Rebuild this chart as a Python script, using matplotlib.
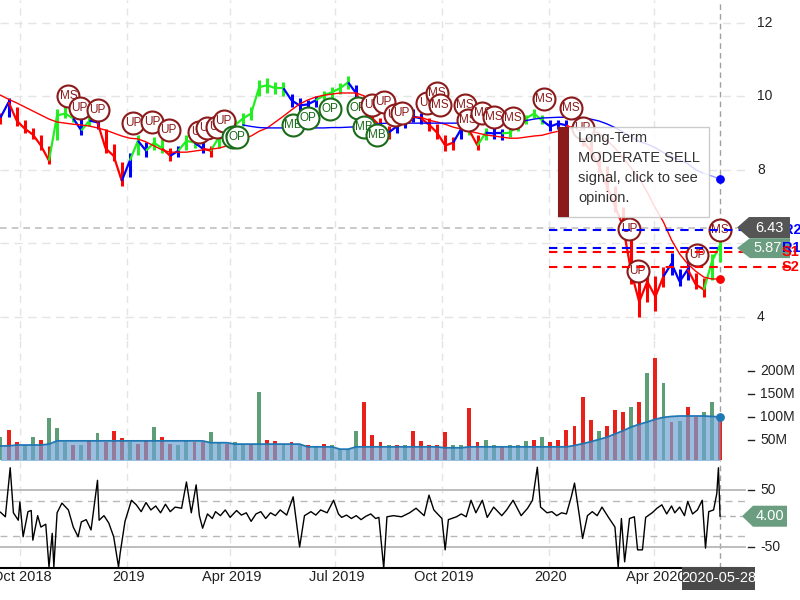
import numpy as np
import pandas as pd
import matplotlib
matplotlib.use("Agg")
import matplotlib.pyplot as plt
from matplotlib.collections import LineCollection
from matplotlib.patches import Rectangle, Polygon

plt.rcParams['font.family'] = ['Liberation Sans', 'DejaVu Sans']

# ---- data (one reading per week = every 5 business days from 2018-09-13) ----
close = [9.42, 9.84, 9.34, 9.12, 8.96, 8.66, 8.25, 9.48, 9.53, 9.40,
         9.07, 9.34, 9.29, 8.58, 8.38, 7.70, 8.25, 8.79, 8.52, 8.74,
         8.58, 8.38, 8.52, 8.79, 8.74, 8.58, 8.52, 8.88, 9.07, 9.21,
         9.40, 9.53, 10.25, 10.30, 10.22, 10.22, 9.89, 9.75, 9.78, 9.89,
         10.03, 10.11, 10.22, 10.38, 10.08, 9.67, 9.40, 9.18, 9.01, 9.18,
         9.34, 9.45, 9.40, 9.23, 9.01, 8.66, 8.74, 9.12, 9.07, 8.66,
         9.01, 8.99, 8.99, 9.01, 9.23, 9.40, 9.53, 9.34, 9.18, 9.26,
         9.21, 9.07, 8.79, 8.52, 8.11, 7.56, 7.01, 6.47, 5.23, 4.41,
         4.96, 4.55, 5.10, 5.45, 4.96, 5.29, 4.88, 4.74, 5.51, 5.95]
high = [9.55, 9.95, 9.70, 9.35, 9.15, 8.95, 8.65, 9.65, 9.75, 9.65,
        9.40, 9.50, 9.45, 9.10, 8.70, 8.20, 8.45, 8.95, 8.75, 8.90,
        8.85, 8.60, 8.65, 8.95, 8.90, 8.75, 8.65, 9.00, 9.20, 9.35,
        9.55, 9.70, 10.45, 10.50, 10.40, 10.40, 10.05, 9.95, 9.90, 10.00,
        10.15, 10.25, 10.35, 10.55, 10.30, 10.00, 9.65, 9.40, 9.20, 9.35,
        9.50, 9.65, 9.55, 9.40, 9.25, 8.95, 8.90, 9.25, 9.25, 8.95,
        9.15, 9.15, 9.10, 9.15, 9.35, 9.50, 9.65, 9.50, 9.35, 9.35,
        9.35, 9.25, 9.05, 8.80, 8.50, 8.10, 7.55, 7.00, 6.30, 5.40,
        5.40, 5.10, 5.35, 5.75, 5.30, 5.55, 5.20, 5.05, 5.70, 6.43]
low = [9.25, 9.45, 9.20, 9.00, 8.85, 8.55, 8.15, 8.80, 9.40, 9.30,
       8.95, 9.20, 9.10, 8.45, 8.25, 7.55, 7.80, 8.40, 8.35, 8.55,
       8.45, 8.25, 8.35, 8.55, 8.60, 8.45, 8.35, 8.60, 8.90, 9.05,
       9.20, 9.35, 10.00, 10.10, 10.05, 10.00, 9.70, 9.55, 9.60, 9.70,
       9.85, 9.95, 10.05, 10.20, 9.90, 9.50, 9.20, 9.00, 8.85, 9.00,
       9.15, 9.30, 9.25, 9.05, 8.85, 8.50, 8.55, 8.85, 8.95, 8.55,
       8.80, 8.85, 8.80, 8.90, 9.05, 9.25, 9.40, 9.25, 9.05, 9.10,
       9.10, 8.95, 8.65, 8.35, 7.95, 7.40, 6.85, 6.20, 4.90, 4.00,
       4.40, 4.15, 4.80, 5.15, 4.85, 5.00, 4.75, 4.55, 5.00, 5.50]
trend = ("rbrrrrrgggbgbrrrbgbggrbggbr" "ggggggggg" "bbbbggggb" "rrrrbbbbrrrr"
         "bgrgbbgggggbbb" "rrrrrrrrrrrr" "bbbrrgg")
ma_short = [10.03, 9.92, 9.82, 9.71, 9.60, 9.49, 9.38, 9.30, 9.27, 9.24,
            9.22, 9.19, 9.14, 9.08, 9.00, 8.92, 8.86, 8.84, 8.76, 8.65,
            8.54, 8.48, 8.48, 8.48, 8.51, 8.54, 8.56, 8.59, 8.65, 8.73,
            8.84, 8.92, 9.05, 9.14, 9.30, 9.46, 9.63, 9.79, 9.90, 9.98,
            10.03, 10.06, 10.09, 10.09, 10.09, 10.01, 9.79, 9.60, 9.52, 9.49,
            9.46, 9.43, 9.43, 9.35, 9.30, 9.24, 9.16, 9.11, 9.05, 9.00,
            8.95, 8.92, 8.89, 8.86, 8.86, 8.89, 8.92, 8.94, 9.00, 9.05,
            9.14, 9.19, 9.14, 9.08, 9.00, 8.81, 8.59, 8.32, 8.05, 7.77,
            7.39, 6.96, 6.58, 6.09, 5.71, 5.44, 5.24, 5.08, 5.03, 5.03]
ma_long_start = 30  # week where the long average begins
ma_long = [9.22, 9.18, 9.15, 9.14, 9.14, 9.14, 9.14, 9.14, 9.14, 9.14,
           9.14, 9.15, 9.15, 9.16, 9.17, 9.20, 9.23, 9.26, 9.27, 9.27,
           9.27, 9.27, 9.27, 9.27, 9.27, 9.27, 9.27, 9.27, 9.27, 9.26,
           9.25, 9.24, 9.24, 9.26, 9.30, 9.34, 9.38, 9.41, 9.42, 9.43,
           9.43, 9.43, 9.42, 9.38, 9.33, 9.25, 9.15, 9.03, 8.90, 8.77,
           8.70, 8.60, 8.47, 8.35, 8.27, 8.17, 8.00, 7.90, 7.83, 7.75]

volume = [57, 72, 45, 40, 57, 50, 98, 76, 45, 40, 38, 48, 65, 45, 70, 55, 45, 42, 48, 79,
          57, 42, 40, 50, 45, 45, 67, 45, 42, 45, 40, 40, 154, 50, 48, 38, 45, 40, 38, 35,
          42, 40, 30, 30, 70, 133, 60, 45, 40, 38, 40, 70, 48, 38, 40, 67, 40, 38, 120, 45,
          50, 40, 35, 38, 40, 48, 50, 57, 45, 50, 72, 80, 143, 93, 70, 80, 115, 110, 122, 133,
          196, 228, 174, 90, 92, 122, 100, 110, 133, 98]
vol_dir = ("grrggrgggr" "grgrrrgrrg" "rrggrrggrg" "grgrrgrgrg" "rggggrrrgr"
           "grrrrrggrr" "ggrgggrgrr" "rrrrgrrrgr" "grgrgrrggr")
vol_avg = [37, 37, 39, 39, 39, 39, 41, 48, 48, 48, 48, 48, 48, 48, 48, 48, 48, 48, 48, 48,
           48, 48, 48, 48, 48, 48, 44, 44, 44, 41, 41, 41, 41, 41, 41, 41, 41, 41, 35, 35,
           35, 35, 30, 30, 35, 35, 35, 35, 35, 35, 35, 35, 35, 35, 35, 33, 33, 33, 35, 35,
           35, 35, 35, 35, 35, 35, 35, 35, 35, 35, 35, 38, 42, 46, 51, 56, 63, 70, 78, 84,
           89, 95, 99, 101, 102, 102, 102, 102, 101, 100]

# oscillator readings (business-day index, value)
osc_day = [0, 3, 6, 8, 11, 12, 14, 17, 19, 20, 23, 25, 28, 30, 32, 33, 35, 38, 42, 45,
           48, 50, 53, 56, 60, 61, 64, 67, 70, 73, 74, 77, 81, 84, 87, 90, 93, 96, 99, 102,
           105, 108, 112, 115, 118, 121, 123, 125, 128, 131, 133, 136, 139, 142, 146, 149, 152, 155, 158, 161,
           164, 167, 170, 173, 177, 181, 185, 188, 192, 195, 198, 202, 206, 209, 211, 214, 217, 220, 223, 226,
           229, 232, 234, 237, 239, 243, 248, 253, 257, 262, 265, 268, 273, 275, 277, 282, 285, 288, 291, 294,
           298, 301, 305, 310, 313, 317, 322, 326, 329, 332, 334, 338, 341, 344, 347, 350, 353, 355, 358, 360,
           363, 366, 369, 372, 376, 380, 382, 384, 386, 389, 392, 394, 397, 399, 403, 406, 409, 412, 415, 417,
           420, 423, 425, 428, 431, 434, 436, 438, 441, 443, 444, 445]
osc_val = [11, 3, 89, 10, -3, 29, -32, 12, 14, -38, 5, -15, -10, -85, -26, -85, 10, 27, 15, -15,
           -32, -6, -2, -20, 67, -3, 5, -8, -32, -85, -61, -5, 32, 24, 12, 28, 15, 22, 10, 25,
           12, 20, 18, 64, 10, 59, 5, -17, 8, 0, 12, 5, 15, 2, 14, 6, 10, -5, 8, 12,
           0, 10, 5, 15, 6, 38, -50, 5, 12, 6, 15, 10, 32, 8, 2, 6, 0, 5, -2, 4,
           8, 0, 2, -87, 3, 5, 3, 10, 18, 5, 41, 15, 0, -55, -2, 3, 8, 3, 32, 10,
           32, 2, 20, 5, 15, 32, 5, 18, 32, 90, 20, 10, 12, 5, 10, 8, 38, 62, 5, -35,
           5, 12, 5, 20, 2, -15, -85, 0, -76, 0, 3, -55, -55, 2, 10, 18, 24, 8, 22, 10,
           20, 5, 30, 8, 15, 32, -52, 12, 15, 44, 89, 4]

# signal circles (business-day index, price, text)
sig_day = [42, 49, 60, 82, 94, 104, 123, 128, 134, 138, 144, 146, 181, 190, 204, 221, 225, 230,
           233, 237, 244, 248, 264, 270, 272, 287, 289, 298, 305, 317, 336, 353, 360, 389, 394, 431, 445]
sig_price = [10.01, 9.68, 9.62, 9.27, 9.30, 9.08, 9.03, 9.14, 9.16, 9.33, 8.89, 8.89, 9.22, 9.41,
             9.65, 9.68, 9.16, 9.76, 8.95, 9.84, 9.49, 9.54, 9.82, 10.09, 9.76, 9.76, 9.35, 9.54,
             9.43, 9.41, 9.92, 9.68, 9.14, 6.38, 5.24, 5.67, 6.36]
sig_text = ["MS", "UP", "UP", "UP", "UP", "UP", "UP", "UP", "UP", "UP", "OP", "OP", "MB", "OP",
            "OP", "OP", "MB", "UP", "MB", "UP", "UP", "UP", "UP", "MS", "MS", "MS", "MS", "MS",
            "MS", "MS", "MS", "MS", "UP", "UP", "UP", "UP", "MS"]

last_price = 6.43
pivots = {"R2": 6.36, "R1": 5.87, "S1": 5.76, "S2": 5.35}
osc_last = 4.00
last_date = "2020-05-28"
month_starts = ["2018-10-01", "2019-01-01", "2019-04-01", "2019-07-01",
                "2019-10-01", "2020-01-01", "2020-04-01"]
month_labels = ["Oct 2018", "2019", "Apr 2019", "Jul 2019", "Oct 2019", "2020", "Apr 2020"]

# ---- layout helpers ----
dates = pd.bdate_range("2018-09-13", periods=446)
n = len(close)
xw = np.arange(n) * 5
last = len(dates) - 1
PX = 1.617  # pixels per business day


def X(px):
    return px / PX - 0.3


xlim = (X(0), X(800))
ticks = [dates.searchsorted(pd.Timestamp(m)) for m in month_starts]

fig = plt.figure(figsize=(8, 6), dpi=100)
ax = fig.add_axes([0, 260 / 600, 1, 340 / 600])
axv = fig.add_axes([0, 140 / 600, 1, 120 / 600])
axo = fig.add_axes([0, 32 / 600, 1, 108 / 600])
for a in (ax, axv, axo):
    a.set_xlim(*xlim)
    a.axis("off")
    for t in ticks:
        a.axvline(t, color="#e4e4e4", ls=(0, (5, 4)), lw=1, zorder=0)
    a.axvline(last, color="#a0a0a0", ls=(0, (4, 3)), lw=1, zorder=1)

# ---- price panel ----
ax.set_ylim(3.37, 12.62)
for v in [4, 6, 8, 10, 12]:
    ax.plot([X(0), X(745)], [v, v], color="#e4e4e4", ls=(0, (6, 4)), lw=1, zorder=0)
for v in [4, 8, 10, 12]:
    ax.text(X(757), v, str(v), fontsize=10, va="center", ha="left", color="#222222")
ax.plot([X(0), X(737)], [last_price, last_price], color="#c0c0c0", ls=(0, (4, 3)), lw=1.2, zorder=1)

cmap = {"r": "#ff0000", "g": "#22ee22", "b": "#0000ff"}
cols = [cmap[c] for c in trend]
ax.vlines(xw, low, high, colors=cols, lw=2.2, zorder=2)
segs = [[(xw[i - 1], close[i - 1]), (xw[i], close[i])] for i in range(1, n)]
ax.add_collection(LineCollection(segs, colors=cols[1:], lw=1.6, zorder=2))

ax.plot(xw, ma_short, color="#ff0000", lw=1, zorder=3)
xl = xw[ma_long_start:]
ax.plot(xl[:-2], ma_long[:-2], color="#0000ff", lw=1, zorder=3)
ax.plot(xl[-3:], ma_long[-3:], color="#9a9aff", lw=1, zorder=3)
ax.scatter([last], [ma_long[-1]], s=28, color="#0000ff", zorder=4)
ax.scatter([last], [ma_short[-1]], s=28, color="#ff0000", zorder=4)

for k, (d, p, t) in enumerate(zip(sig_day, sig_price, sig_text)):
    c = "#1a6b1a" if t in ("OP", "MB") else "#8b1a1a"
    ax.scatter([d], [p], s=250, facecolor="white", edgecolor=c, lw=1.5, zorder=5 + k * 0.01)
    ax.text(d, p, t, fontsize=8.5, color=c, ha="center", va="center", zorder=5.005 + k * 0.01)

# pivot lines
pcol = {"R2": "#0000ff", "R1": "#0000ff", "S1": "#ff0000", "S2": "#ff0000"}
p0 = dates.searchsorted(pd.Timestamp("2020-01-01"))
for name, v in pivots.items():
    ax.plot([p0, X(790)], [v, v], color=pcol[name], ls=(0, (4, 3)), lw=1.5, zorder=6)

# tooltip
ax.add_patch(Rectangle((0.6975, 0.3618), 0.189, 0.2647, transform=ax.transAxes,
                       fc="white", ec="#c4c4c4", alpha=0.85, lw=1, zorder=20))
ax.add_patch(Rectangle((0.6975, 0.3618), 0.014, 0.2647, transform=ax.transAxes,
                       fc="#8b1a1a", ec="none", zorder=21))
ax.text(0.7225, 0.615, "Long-Term\nMODERATE SELL\nsignal, click to see\nopinion.",
        transform=ax.transAxes, fontsize=10.5, color="#333333", va="top", ha="left",
        linespacing=1.55, zorder=22)

# value flags
half = 10.5 / 36.75
ax.text(X(783), pivots["R2"], "R2", color="#0000ff", fontsize=10.5, fontweight="bold",
        va="center", ha="left", zorder=24)
ax.add_patch(Polygon([(X(737), last_price), (X(749), last_price + half), (X(790), last_price + half),
                      (X(790), last_price - half), (X(749), last_price - half)],
                     fc="#555555", ec="none", zorder=25))
ax.text(X(769), last_price, f"{last_price:.2f}", color="white", fontsize=10.5, ha="center",
        va="center", zorder=26)
r1 = pivots["R1"]
ax.add_patch(Polygon([(X(737), r1), (X(750), r1 + half * 0.95), (X(790), r1 + half * 0.95),
                      (X(790), r1 - half * 0.95), (X(750), r1 - half * 0.95)],
                     fc="#6b9e80", ec="none", zorder=25))
ax.text(X(768), r1, f"{r1:.2f}", color="white", fontsize=10.5, ha="center", va="center", zorder=26)
for name in ("R1", "S1", "S2"):
    ax.text(X(782), pivots[name], name, color=pcol[name], fontsize=10.5, fontweight="bold",
            va="center", ha="left", zorder=27)

# ---- volume panel ----
axv.set_ylim(6.5, 267)
vcols = ["#e8221b" if c == "r" else "#5e9e77" for c in vol_dir]
axv.bar(xw, volume, width=2.4, color=vcols, zorder=2)
axv.fill_between(xw, 0, vol_avg, color="#6fa3d3", alpha=0.7, lw=0, zorder=3)
axv.plot(xw, vol_avg, color="#1f77b4", lw=1.3, zorder=4)
axv.scatter([last], [vol_avg[-1]], s=28, color="#1f77b4", zorder=5)
for v in [50, 100, 150, 200]:
    axv.plot([X(748), X(754)], [v, v], color="#222222", lw=1)
    axv.text(X(760), v, f"{v}M", fontsize=10, va="center", ha="left", color="#222222")

# ---- oscillator panel ----
axo.set_ylim(-86.8, 102.6)
for v, ls in [(50, "-"), (-50, "-"), (30, (0, (5, 4))), (-30, (0, (5, 4)))]:
    axo.plot([X(0), X(745)], [v, v], color="#b8b8b8", ls=ls, lw=1.3 if ls == "-" else 1, zorder=1)
axo.plot(osc_day, osc_val, color="black", lw=1, zorder=3)
axo.plot([last, X(742)], [osc_last, osc_last], color="#b0b0b0", ls=(0, (4, 3)), lw=1, zorder=2)
oh = 10.5 / 0.57
axo.add_patch(Polygon([(X(742), osc_last), (X(753), osc_last + oh), (X(787), osc_last + oh),
                       (X(787), osc_last - oh), (X(753), osc_last - oh)],
                      fc="#6b9e80", ec="none", zorder=5))
axo.text(X(770), osc_last, f"{osc_last:.2f}", color="white", fontsize=10.5, ha="center",
         va="center", zorder=6)
for v in [50, -50]:
    axo.plot([X(748), X(754)], [v, v], color="#222222", lw=1)
    axo.text(X(760), v, str(v), fontsize=10, va="center", ha="left", color="#222222")

axo.plot([0, 745 / 800], [0, 0], transform=axo.transAxes, color="black", lw=1.5, clip_on=False)
for t, lab in zip(ticks, month_labels):
    axo.text(t + 1, -0.085, lab, transform=axo.get_xaxis_transform(), fontsize=10.5,
             ha="center", va="center", color="#222222")
fig.patches.append(Rectangle((682 / 800, 10 / 600), 73 / 800, 23 / 600, transform=fig.transFigure,
                             fc="#4a4a4a", ec="none", zorder=10))
fig.text(718.5 / 800, 1 - 578.5 / 600, last_date, color="white", fontsize=10.5,
         ha="center", va="center", zorder=11)

fig.savefig("out.png", dpi=100)
